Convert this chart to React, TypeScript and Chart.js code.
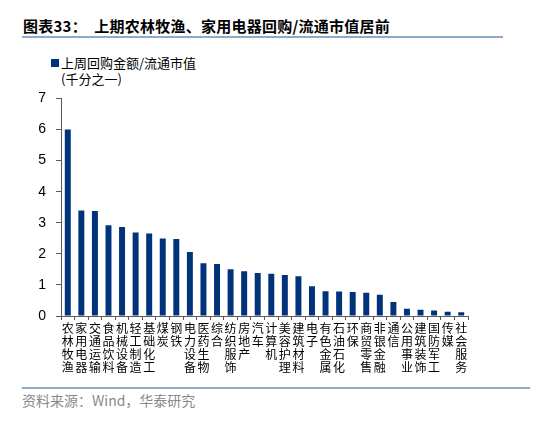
import React, { useEffect, useRef } from "react";
import { Chart, registerables } from "chart.js";

Chart.register(...registerables);

const categories: string[] = [
  "农林牧渔", "家用电器", "交通运输", "食品饮料", "机械设备", "轻工制造", "基础化工", "煤炭",
  "钢铁", "电力设备", "医药生物", "综合", "纺织服饰", "房地产", "汽车", "计算机",
  "美容护理", "建筑材料", "电子", "有色金属", "石油石化", "环保", "商贸零售", "非银金融",
  "通信", "公用事业", "建筑装饰", "国防军工", "传媒", "社会服务",
];

const values: number[] = [
  6.0, 3.39, 3.38, 2.92, 2.86, 2.69, 2.65, 2.49,
  2.48, 2.06, 1.7, 1.67, 1.5, 1.44, 1.38, 1.36,
  1.32, 1.28, 0.96, 0.8, 0.79, 0.77, 0.75, 0.68,
  0.45, 0.23, 0.2, 0.18, 0.14, 0.12,
];

const yTicks: number[] = [0, 1, 2, 3, 4, 5, 6, 7];

const seriesName = "上周回购金额/流通市值";
const unitLabel = "(千分之一)";
const titleText = "图表33：  上期农林牧渔、家用电器回购/流通市值居前";
const sourceText = "资料来源：Wind，华泰研究";

const BAR = "#00337a";
const AXIS = "#595959";
const CJK = '"Noto Sans CJK SC", "Noto Sans", sans-serif';

export default function App() {
  const ref = useRef<HTMLCanvasElement | null>(null);

  useEffect(() => {
    document.body.style.margin = "0";
    if (!ref.current) return;
    const chart = new Chart(ref.current, {
      type: "bar",
      data: {
        labels: categories.map((c) => c.split("")),
        datasets: [
          {
            label: seriesName,
            data: values,
            backgroundColor: BAR,
            borderWidth: 0,
            barPercentage: 0.5,
            categoryPercentage: 0.88,
          },
        ],
      },
      options: {
        animation: false,
        responsive: false,
        maintainAspectRatio: false,
        layout: { padding: { top: 16, right: 12, left: 0, bottom: 0 } },
        plugins: {
          legend: { display: false },
          tooltip: { enabled: false },
        },
        scales: {
          x: {
            grid: {
              display: true,
              drawOnChartArea: false,
              drawTicks: true,
              tickLength: 4,
              color: AXIS,
              offset: true,
            },
            border: { display: true, color: AXIS, width: 1 },
            ticks: {
              autoSkip: false,
              maxRotation: 0,
              minRotation: 0,
              padding: 2,
              color: "#000",
              font: { family: CJK, size: 12, lineHeight: 1.08 },
            },
            afterFit: (s: any) => {
              s.height = 64;
            },
          },
          y: {
            min: 0,
            max: 7,
            afterBuildTicks: (s: any) => {
              s.ticks = yTicks.map((v) => ({ value: v }));
            },
            grid: {
              display: true,
              drawOnChartArea: false,
              drawTicks: true,
              tickLength: 5,
              color: AXIS,
            },
            border: { display: true, color: AXIS, width: 1 },
            ticks: {
              padding: 10,
              color: "#000",
              font: { family: '"Liberation Sans", Arial, sans-serif', size: 14 },
            },
            afterFit: (s: any) => {
              s.width = 61;
            },
          },
        },
      },
    });
    return () => chart.destroy();
  }, []);

  return (
    <div style={{ position: "relative", width: 550, height: 433, background: "#fff", overflow: "hidden" }}>
      <div
        style={{
          position: "absolute",
          left: 23,
          top: 17,
          fontFamily: CJK,
          fontWeight: 700,
          fontSize: 15,
          letterSpacing: "0.25px",
          lineHeight: "18px",
          color: "#000",
          whiteSpace: "pre",
        }}
      >
        {titleText}
      </div>
      <div style={{ position: "absolute", left: 22, top: 36, width: 481, height: 2, background: "#8eaacb" }} />
      <div style={{ position: "absolute", left: 51, top: 59, width: 8, height: 8, background: BAR }} />
      <div
        style={{
          position: "absolute",
          left: 61,
          top: 55,
          fontFamily: CJK,
          fontSize: 13,
          lineHeight: "16px",
          color: "#000",
          whiteSpace: "pre",
        }}
      >
        {seriesName}
      </div>
      <div
        style={{
          position: "absolute",
          left: 61,
          top: 71,
          fontFamily: CJK,
          fontSize: 13,
          lineHeight: "16px",
          color: "#000",
          whiteSpace: "pre",
        }}
      >
        {unitLabel}
      </div>
      <canvas
        ref={ref}
        width={480}
        height={300}
        style={{ position: "absolute", left: 0, top: 80, width: 480, height: 300 }}
      />
      <div style={{ position: "absolute", left: 22, top: 387, width: 508, height: 2, background: "#8eaacb" }} />
      <div
        style={{
          position: "absolute",
          left: 22,
          top: 392,
          fontFamily: CJK,
          fontSize: 14,
          lineHeight: "17px",
          color: "#8a8a8a",
          whiteSpace: "pre",
        }}
      >
        {sourceText}
      </div>
    </div>
  );
}
